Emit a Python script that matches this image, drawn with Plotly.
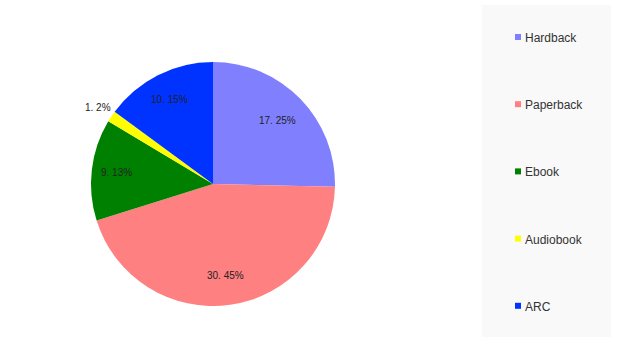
import math
import plotly.graph_objects as go

categories = ["Hardback", "Paperback", "Ebook", "Audiobook", "ARC"]
values = [17, 30, 9, 1, 10]
percents = [25, 45, 13, 2, 15]
colors = ["#8080ff", "#ff8080", "#008000", "#ffff00", "#0033ff"]

W, H = 620, 351
labels_text = [f"{v}. {p}%" for v, p in zip(values, percents)]
label_radius = [0.74, 0.76, 0.8, 1.13, 0.78]  # fraction of pie radius

# pie geometry (pixels)
cx, cy, r = 213, 184, 122
dom_x = [(cx - r) / W, (cx + r) / W]
dom_y = [1 - (cy + r) / H, 1 - (cy - r) / H]

fig = go.Figure()
fig.add_trace(go.Pie(
    labels=categories, values=values, sort=False, direction="clockwise",
    rotation=0, marker=dict(colors=colors, line=dict(width=0)),
    textinfo="none", showlegend=False,
    hoverinfo="label+value+percent",
    domain=dict(x=dom_x, y=dom_y),
))

# slice labels placed along each slice's mid-angle
total = sum(values)
cum = 0
font = "Liberation Sans, Arial, sans-serif"
for v, t, f in zip(values, labels_text, label_radius):
    mid = (cum + v / 2) / total * 2 * math.pi
    cum += v
    px = cx + math.sin(mid) * r * f
    py = cy - math.cos(mid) * r * f
    fig.add_annotation(x=px / W, y=1 - py / H, xref="paper", yref="paper",
                       text=t, showarrow=False, xanchor="center", yanchor="middle",
                       font=dict(family=font, size=10, color="#222222"))

# legend panel
fig.add_shape(type="rect", xref="paper", yref="paper",
              x0=482 / W, x1=611 / W, y0=1 - 337 / H, y1=1 - 5 / H,
              fillcolor="#f9f9f9", line=dict(width=0), layer="below")
leg_y0, leg_step = 37, 67.2
for i, (c, col) in enumerate(zip(categories, colors)):
    yy = leg_y0 + i * leg_step
    fig.add_shape(type="rect", xref="paper", yref="paper",
                  x0=515 / W, x1=521 / W, y0=1 - (yy + 3) / H, y1=1 - (yy - 3) / H,
                  fillcolor=col, line=dict(width=0))
    fig.add_annotation(x=523 / W, y=1 - (yy + 1) / H, xref="paper", yref="paper",
                       text=c, showarrow=False, xanchor="left", yanchor="middle",
                       font=dict(family=font, size=12, color="#333333"))

fig.update_layout(
    width=W, height=H, margin=dict(l=0, r=0, t=0, b=0),
    paper_bgcolor="white", plot_bgcolor="rgba(0,0,0,0)",
    showlegend=False,
)

fig.write_html("out.html")
